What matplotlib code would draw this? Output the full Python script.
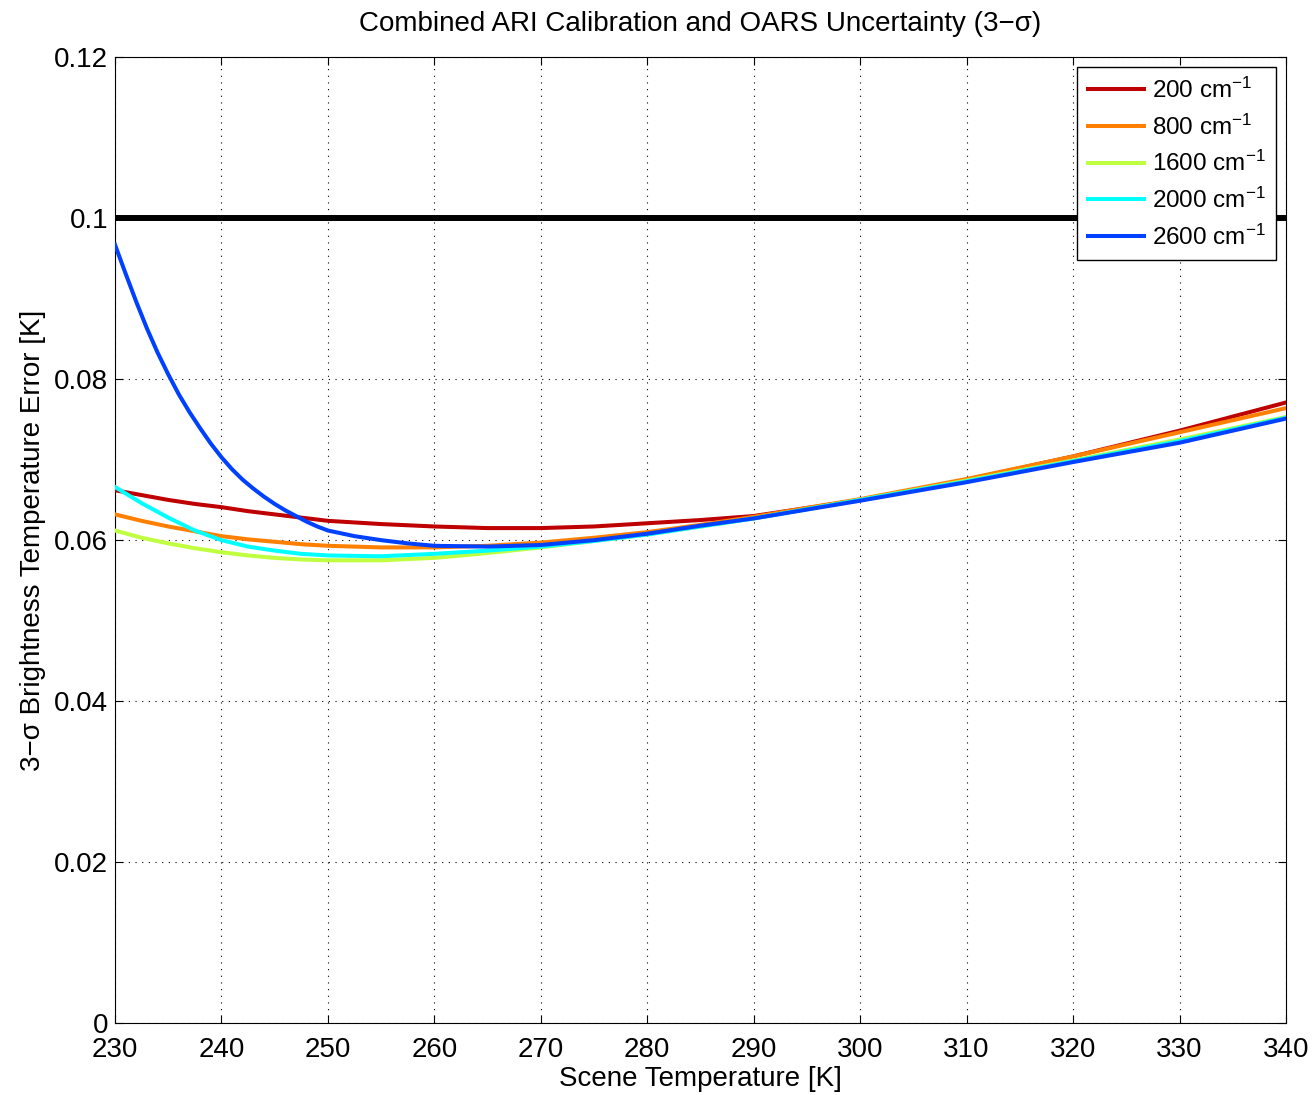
import matplotlib
matplotlib.use('Agg')
import matplotlib.pyplot as plt

# Scene temperature [K]
temps = [230, 232.5, 235, 237.5, 240, 242.5, 245, 247.5, 250, 255, 260, 265,
         270, 275, 280, 285, 290, 300, 310, 320, 330, 340]
# the 2600 cm-1 curve bends sharply at the cold end, so it gets finer sampling
temps_2600 = [230, 231, 232, 233, 234, 235, 236, 237, 238, 239, 240, 241, 242, 243,
              244, 245, 246, 247, 248, 249, 250, 252.5, 255, 257.5, 260, 265, 270,
              275, 280, 285, 290, 300, 310, 320, 330, 340]

# 3-sigma brightness temperature error [K], one list per wavenumber
err_200 = [0.0662, 0.0656, 0.0650, 0.0645, 0.0641, 0.0636, 0.0632, 0.0628, 0.0624,
           0.0620, 0.0617, 0.0615, 0.0615, 0.0617, 0.0621, 0.0625, 0.0630, 0.0650,
           0.0675, 0.0704, 0.0736, 0.0771]
err_800 = [0.0632, 0.0624, 0.0617, 0.0611, 0.0605, 0.0601, 0.0598, 0.0595, 0.0593,
           0.0591, 0.0591, 0.0593, 0.0597, 0.0603, 0.0610, 0.0619, 0.0629, 0.0651,
           0.0676, 0.0704, 0.0734, 0.0764]
err_1600 = [0.0612, 0.0603, 0.0596, 0.0590, 0.0585, 0.0581, 0.0578, 0.0576, 0.0575,
            0.0575, 0.0578, 0.0584, 0.0591, 0.0599, 0.0607, 0.0617, 0.0627, 0.0650,
            0.0674, 0.0699, 0.0725, 0.0753]
err_2000 = [0.0666, 0.0646, 0.0628, 0.0612, 0.0600, 0.0592, 0.0587, 0.0583, 0.0581,
            0.0580, 0.0583, 0.0587, 0.0592, 0.0599, 0.0607, 0.0617, 0.0627, 0.0650,
            0.0673, 0.0698, 0.0723, 0.0752]
err_2600 = [0.0967, 0.0931, 0.0896, 0.0863, 0.0833, 0.0806, 0.0781, 0.0759, 0.0739,
            0.0720, 0.0703, 0.0688, 0.0675, 0.0664, 0.0654, 0.0645, 0.0637, 0.0630,
            0.0623, 0.0617, 0.0612, 0.0605, 0.0600, 0.0596, 0.0593, 0.0592, 0.0594,
            0.0600, 0.0608, 0.0618, 0.0627, 0.0649, 0.0672, 0.0697, 0.0721, 0.0751]

labels = ['200', '800', '1600', '2000', '2600']
colors = ['#bf0000', '#ff8000', '#bfff40', '#00ffff', '#0040ff']
requirement = 0.1

plt.rcParams['font.family'] = ['Liberation Sans', 'DejaVu Sans']
plt.rcParams['mathtext.fontset'] = 'custom'
plt.rcParams['mathtext.rm'] = 'Liberation Sans'
plt.rcParams['mathtext.it'] = 'Liberation Sans'

fig = plt.figure(figsize=(13.14, 10.95), dpi=100)
ax = fig.add_axes([0.0875, 0.0655, 0.8912, 0.8824])

ax.axhline(requirement, color='black', lw=4.3, zorder=2)

series_x = [temps, temps, temps, temps, temps_2600]
series = [err_200, err_800, err_1600, err_2000, err_2600]
for xs, vals, lab, col in zip(series_x, series, labels, colors):
    ax.plot(xs, vals, color=col, lw=2.9, label=lab + r' cm$^{-1}$', zorder=3,
            solid_joinstyle='round')

ax.set_xlim(230, 340)
ax.set_ylim(0, 0.12)
ax.set_xticks(range(230, 341, 10))
ax.set_yticks([0, 0.02, 0.04, 0.06, 0.08, 0.1, 0.12])
ax.set_yticklabels(['0', '0.02', '0.04', '0.06', '0.08', '0.1', '0.12'])
ax.tick_params(direction='in', top=True, right=True, labelsize=20, length=6)
ax.tick_params(axis='x', pad=10)
ax.tick_params(axis='y', pad=5)
ax.grid(True, linestyle=(0, (1, 5)), color='black', lw=0.8)

ax.set_xlabel('Scene Temperature [K]', fontsize=20, labelpad=2)
ax.set_ylabel('3\u2212\u03c3 Brightness Temperature Error [K]', fontsize=20, labelpad=6)
ax.set_title('Combined ARI Calibration and OARS Uncertainty (3\u2212\u03c3)', fontsize=20, pad=19)

leg = ax.legend(loc='upper right', fontsize=17.5, fancybox=False, framealpha=1,
                edgecolor='black', handlelength=2.3, handletextpad=0.3, borderpad=0.45,
                labelspacing=0.47, borderaxespad=0.4)
leg.get_frame().set_linewidth(1.0)

plt.savefig('out.png', dpi=100)
